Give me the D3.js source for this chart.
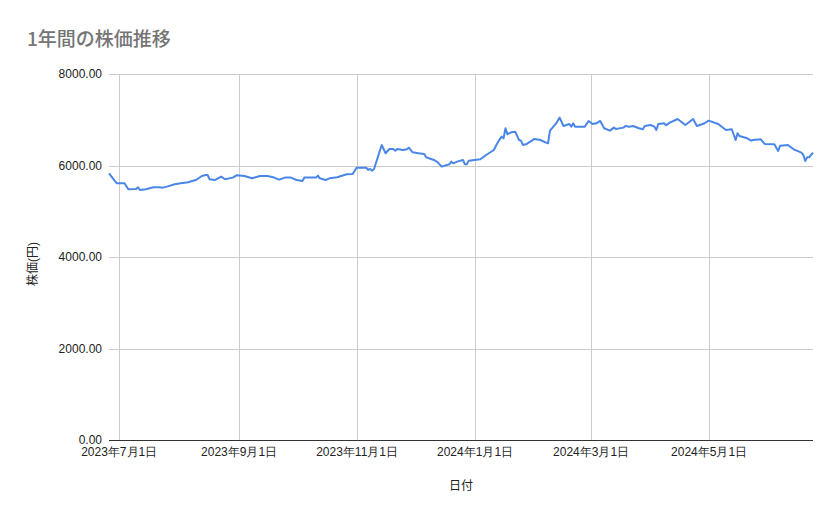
<!DOCTYPE html>
<html>
<head>
<meta charset="utf-8">
<script src="https://cdn.jsdelivr.net/npm/d3@7"></script>
<style>
  body { margin: 0; background: #fff; }
  svg { font-family: "Liberation Sans", Arial, "Noto Sans CJK JP", sans-serif; }
</style>
</head>
<body>
<div id="chart"></div>
<script>
// data (dates, closing price in yen)
const dates = [
  "2023-06-26","2023-06-28","2023-06-30","2023-07-04","2023-07-06","2023-07-10","2023-07-11","2023-07-12",
  "2023-07-15","2023-07-19","2023-07-22","2023-07-24","2023-07-26","2023-07-30","2023-08-02","2023-08-06",
  "2023-08-08","2023-08-10","2023-08-13","2023-08-15","2023-08-16","2023-08-17","2023-08-20","2023-08-23",
  "2023-08-25","2023-08-29","2023-08-31","2023-09-04","2023-09-08","2023-09-12","2023-09-16","2023-09-19",
  "2023-09-22","2023-09-25","2023-09-28","2023-10-01","2023-10-04","2023-10-05","2023-10-11","2023-10-12",
  "2023-10-13","2023-10-16","2023-10-18","2023-10-22","2023-10-24","2023-10-27","2023-10-30","2023-11-01",
  "2023-11-06","2023-11-07","2023-11-08","2023-11-09","2023-11-10","2023-11-14","2023-11-16","2023-11-18",
  "2023-11-20","2023-11-21","2023-11-22","2023-11-25","2023-11-27","2023-11-28","2023-11-30","2023-12-03",
  "2023-12-06","2023-12-07","2023-12-11","2023-12-13","2023-12-15","2023-12-19","2023-12-20","2023-12-21",
  "2023-12-23","2023-12-26","2023-12-27","2023-12-28","2023-12-29","2024-01-01","2024-01-04","2024-01-07",
  "2024-01-11","2024-01-12","2024-01-14","2024-01-15","2024-01-16","2024-01-17","2024-01-18","2024-01-20",
  "2024-01-22","2024-01-24","2024-01-25","2024-01-26","2024-01-28","2024-02-01","2024-02-04","2024-02-07",
  "2024-02-08","2024-02-09","2024-02-12","2024-02-14","2024-02-16","2024-02-19","2024-02-20","2024-02-21",
  "2024-02-22","2024-02-27","2024-02-29","2024-03-02","2024-03-04","2024-03-06","2024-03-08","2024-03-11",
  "2024-03-13","2024-03-14","2024-03-18","2024-03-19","2024-03-21","2024-03-23","2024-03-26","2024-03-28",
  "2024-03-29","2024-04-01","2024-04-03","2024-04-04","2024-04-05","2024-04-08","2024-04-09","2024-04-11",
  "2024-04-15","2024-04-19","2024-04-23","2024-04-25","2024-04-29","2024-05-01","2024-05-06","2024-05-10",
  "2024-05-13","2024-05-15","2024-05-16","2024-05-17","2024-05-21","2024-05-23","2024-05-24","2024-05-28",
  "2024-05-30","2024-06-04","2024-06-06","2024-06-07","2024-06-11","2024-06-14","2024-06-18","2024-06-19",
  "2024-06-20","2024-06-21","2024-06-22","2024-06-24"
];
const prices = [
  5830,5720,5612,5612,5480,5487,5524,5465,
  5480,5524,5524,5516,5538,5590,5612,5633,
  5662,5684,5771,5793,5793,5699,5684,5756,
  5699,5735,5786,5771,5720,5771,5771,5742,
  5690,5735,5735,5684,5662,5735,5735,5778,
  5720,5684,5720,5742,5771,5808,5815,5953,
  5953,5902,5924,5887,5917,6449,6267,6361,
  6361,6324,6361,6339,6354,6390,6289,6267,
  6252,6180,6121,6070,5975,6027,6084,6048,
  6084,6121,6027,6027,6106,6121,6136,6230,
  6339,6427,6573,6630,6594,6814,6683,6726,
  6740,6558,6543,6449,6471,6580,6558,6499,
  6485,6762,6908,7046,6864,6908,6849,6923,
  6849,6849,6973,6908,6923,6973,6814,6762,
  6828,6799,6828,6864,6849,6864,6814,6792,
  6864,6886,6849,6777,6908,6923,6879,6937,
  7017,6886,7017,6864,6923,6980,6908,6777,
  6792,6558,6704,6645,6594,6543,6558,6573,
  6471,6463,6317,6434,6449,6354,6281,6230,
  6099,6180,6180,6281
];
const xTickDates = ["2023-07-01","2023-09-01","2023-11-01","2024-01-01","2024-03-01","2024-05-01"];
const yTicks = [0, 2000, 4000, 6000, 8000];

const WIDTH = 839;
const HEIGHT = 519;
const margin = { top: 74, right: 26, bottom: 79, left: 109 };
const innerWidth = WIDTH - margin.left - margin.right;
const innerHeight = HEIGHT - margin.top - margin.bottom;

const parse = d3.timeParse("%Y-%m-%d");
const data = dates.map((d, i) => ({ date: parse(d), value: prices[i] }));

const svg = d3.select("#chart").append("svg")
  .attr("width", WIDTH)
  .attr("height", HEIGHT);

// title
svg.append("text")
  .attr("x", 27)
  .attr("y", 46)
  .attr("fill", "#757575")
  .style("font-size", "19px")
  .style("font-weight", "500")
  .style("font-family", "'Noto Sans CJK JP', 'Liberation Sans', sans-serif")
  .text("1年間の株価推移");

const g = svg.append("g")
  .attr("transform", `translate(${margin.left},${margin.top})`);

const xScale = d3.scaleTime()
  .domain(d3.extent(data, d => d.date))
  .range([0, innerWidth]);
const yScale = d3.scaleLinear()
  .domain([0, 8000])
  .range([innerHeight, 0]);

// horizontal gridlines
g.append("g")
  .selectAll("line")
  .data(yTicks.slice(1))
  .join("line")
  .attr("x1", 0)
  .attr("x2", innerWidth)
  .attr("y1", d => Math.round(yScale(d)) + 0.5)
  .attr("y2", d => Math.round(yScale(d)) + 0.5)
  .attr("stroke", "#cccccc");

// vertical gridlines
const xTicks = xTickDates.map(parse);
g.append("g")
  .selectAll("line")
  .data(xTicks)
  .join("line")
  .attr("x1", d => Math.round(xScale(d)) + 0.5)
  .attr("x2", d => Math.round(xScale(d)) + 0.5)
  .attr("y1", 0)
  .attr("y2", innerHeight)
  .attr("stroke", "#cccccc");

// y axis labels
const yAxis = d3.axisLeft(yScale)
  .tickValues(yTicks)
  .tickFormat(d3.format(".2f"))
  .tickSize(0)
  .tickPadding(7);
g.append("g")
  .call(yAxis)
  .call(a => a.select(".domain").remove())
  .selectAll("text")
  .attr("fill", "#222")
  .style("font-size", "12px")
  .style("font-family", "'Liberation Sans', Arial, sans-serif");

// x axis labels
const fmtDate = d => `${d.getFullYear()}年${d.getMonth() + 1}月${d.getDate()}日`;
const xAxis = d3.axisBottom(xScale)
  .tickValues(xTicks)
  .tickFormat(fmtDate)
  .tickSize(0)
  .tickPadding(7);
g.append("g")
  .attr("transform", `translate(0,${innerHeight})`)
  .call(xAxis)
  .call(a => a.select(".domain").remove())
  .selectAll("text")
  .attr("fill", "#222")
  .style("font-size", "12px");

// baseline
g.append("line")
  .attr("x1", 0)
  .attr("x2", innerWidth)
  .attr("y1", yScale(0) + 0.5)
  .attr("y2", yScale(0) + 0.5)
  .attr("stroke", "#333")
  .attr("stroke-width", 1);

// price line
const line = d3.line()
  .x(d => xScale(d.date))
  .y(d => yScale(d.value));
g.append("path")
  .datum(data)
  .attr("d", line)
  .attr("fill", "none")
  .attr("stroke", "#4a86e8")
  .attr("stroke-width", 2)
  .attr("stroke-linejoin", "round");

// axis titles
svg.append("text")
  .attr("x", margin.left + innerWidth / 2)
  .attr("y", 490)
  .attr("text-anchor", "middle")
  .attr("fill", "#222")
  .style("font-size", "12px")
  .text("日付");
svg.append("text")
  .attr("transform", `translate(37,${264}) rotate(-90)`)
  .attr("text-anchor", "middle")
  .attr("fill", "#222")
  .style("font-size", "12px")
  .text("株価(円)");
</script>
</body>
</html>
